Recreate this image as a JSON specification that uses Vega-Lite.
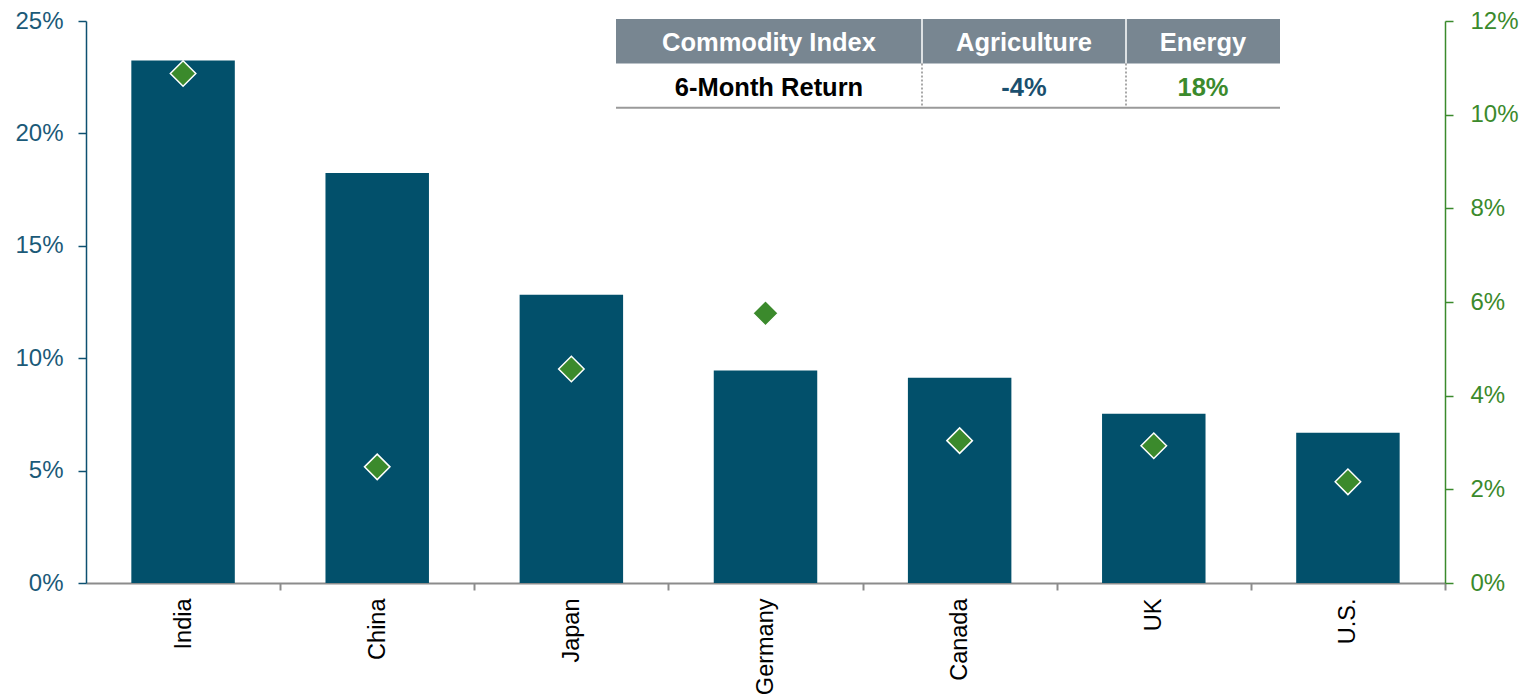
{
  "$schema": "https://vega.github.io/schema/vega-lite/v6.json",
  "width": 1359,
  "height": 562,
  "autosize": {"type": "none"},
  "padding": {"left": 86, "top": 21, "right": 87, "bottom": 116},
  "background": "white",
  "config": {
    "view": {"stroke": null},
    "font": "Liberation Sans",
    "axis": {"grid": false, "labelFont": "Liberation Sans", "titleFont": "Liberation Sans"}
  },
  "datasets": {
    "countries": [
      {"country": "India", "equity": 0.2324, "commodity": 0.1088},
      {"country": "China", "equity": 0.1824, "commodity": 0.0248},
      {"country": "Japan", "equity": 0.1282, "commodity": 0.0457},
      {"country": "Germany", "equity": 0.0945, "commodity": 0.0576},
      {"country": "Canada", "equity": 0.0913, "commodity": 0.0304},
      {"country": "UK", "equity": 0.0753, "commodity": 0.0293},
      {"country": "U.S.", "equity": 0.0668, "commodity": 0.0216}
    ],
    "cells": [
      {"label": "Commodity Index", "col": 1, "row": 1, "role": "head"},
      {"label": "Agriculture", "col": 3, "row": 1, "role": "head"},
      {"label": "Energy", "col": 5, "row": 1, "role": "head"},
      {"label": "6-Month Return", "col": 1, "row": 3, "role": "rowlabel"},
      {"label": "-4%", "col": 3, "row": 3, "role": "Agriculture"},
      {"label": "18%", "col": 5, "row": 3, "role": "Energy"}
    ]
  },
  "layer": [
    {
      "data": {"name": "countries"},
      "mark": {"type": "bar", "color": "#02506b"},
      "encoding": {
        "x": {
          "field": "country", "type": "nominal", "sort": null,
          "scale": {"paddingInner": 0.467, "paddingOuter": 0.2335},
          "axis": {
            "title": null, "labelAngle": -90, "labelFontSize": 23.5, "labelColor": "#000000",
            "tickOffset": 97, "labelOffset": -97, "domainColor": "#8c8c8c", "tickColor": "#8c8c8c",
            "domainWidth": 2, "tickWidth": 2, "tickSize": 7, "labelPadding": 8
          }
        },
        "y": {
          "field": "equity", "type": "quantitative",
          "scale": {"domain": [0, 0.25], "nice": false},
          "axis": {
            "title": null, "orient": "left", "values": [0, 0.05, 0.1, 0.15, 0.2, 0.25],
            "format": ".0%", "labelFontSize": 24, "labelColor": "#1b5a78",
            "domainColor": "#0d5070", "tickColor": "#0d5070", "domainWidth": 1.5, "tickWidth": 1.5,
            "tickSize": 8, "labelPadding": 15
          }
        }
      }
    },
    {
      "data": {"name": "countries"},
      "mark": {"type": "point", "shape": "diamond", "filled": true, "size": 650, "color": "#3b8a2c", "stroke": "#ffffff", "strokeWidth": 1.5, "opacity": 1},
      "encoding": {
        "x": {
          "field": "country", "type": "nominal", "sort": null,
          "scale": {"paddingInner": 0.467, "paddingOuter": 0.2335},
          "axis": null
        },
        "y": {
          "field": "commodity", "type": "quantitative",
          "scale": {"domain": [0, 0.12], "nice": false},
          "axis": {
            "title": null, "orient": "right", "values": [0, 0.02, 0.04, 0.06, 0.08, 0.1, 0.12],
            "format": ".0%", "labelFontSize": 24, "labelColor": "#3b8a2c",
            "domainColor": "#3b8a2c", "tickColor": "#3b8a2c", "domainWidth": 1.5, "tickWidth": 1.5,
            "tickSize": 8, "labelPadding": 17
          }
        }
      }
    },
    {
      "data": {"values": [{"x0": 0, "x1": 6, "y0": 0, "y1": 2}]},
      "mark": {"type": "rect", "color": "#788691"},
      "encoding": {
        "x": {"field": "x0", "type": "quantitative", "scale": {"type": "linear", "domain": [0, 1, 2, 3, 4, 5, 6], "range": [530, 683, 836, 938, 1040, 1117, 1194], "nice": false, "zero": false}, "axis": null},
        "x2": {"field": "x1"},
        "y": {"field": "y0", "type": "quantitative", "scale": {"type": "linear", "domain": [0, 1, 2, 3, 4], "range": [-2, 20.25, 42.5, 64.6, 86.7], "nice": false, "zero": false}, "axis": null},
        "y2": {"field": "y1"}
      }
    },
    {
      "data": {"values": [{"x": 2, "y0": 0, "y1": 2}, {"x": 4, "y0": 0, "y1": 2}]},
      "mark": {"type": "rule", "color": "#ffffff", "strokeWidth": 1.5},
      "encoding": {
        "x": {"field": "x", "type": "quantitative", "scale": {"type": "linear", "domain": [0, 1, 2, 3, 4, 5, 6], "range": [530, 683, 836, 938, 1040, 1117, 1194], "nice": false, "zero": false}, "axis": null},
        "y": {"field": "y0", "type": "quantitative", "scale": {"type": "linear", "domain": [0, 1, 2, 3, 4], "range": [-2, 20.25, 42.5, 64.6, 86.7], "nice": false, "zero": false}, "axis": null},
        "y2": {"field": "y1"}
      }
    },
    {
      "data": {"values": [{"x": 2, "y0": 2, "y1": 4}, {"x": 4, "y0": 2, "y1": 4}]},
      "mark": {"type": "rule", "color": "#8c8c8c", "strokeWidth": 1.5, "strokeDash": [2, 2]},
      "encoding": {
        "x": {"field": "x", "type": "quantitative", "scale": {"type": "linear", "domain": [0, 1, 2, 3, 4, 5, 6], "range": [530, 683, 836, 938, 1040, 1117, 1194], "nice": false, "zero": false}, "axis": null},
        "y": {"field": "y0", "type": "quantitative", "scale": {"type": "linear", "domain": [0, 1, 2, 3, 4], "range": [-2, 20.25, 42.5, 64.6, 86.7], "nice": false, "zero": false}, "axis": null},
        "y2": {"field": "y1"}
      }
    },
    {
      "data": {"values": [{"x0": 0, "x1": 6, "y": 4}]},
      "mark": {"type": "rule", "color": "#9a9a9a", "strokeWidth": 2},
      "encoding": {
        "x": {"field": "x0", "type": "quantitative", "scale": {"type": "linear", "domain": [0, 1, 2, 3, 4, 5, 6], "range": [530, 683, 836, 938, 1040, 1117, 1194], "nice": false, "zero": false}, "axis": null},
        "x2": {"field": "x1"},
        "y": {"field": "y", "type": "quantitative", "scale": {"type": "linear", "domain": [0, 1, 2, 3, 4], "range": [-2, 20.25, 42.5, 64.6, 86.7], "nice": false, "zero": false}, "axis": null}
      }
    },
    {
      "data": {"name": "cells"},
      "mark": {"type": "text", "font": "Liberation Sans", "fontSize": 25.5, "fontWeight": "bold", "align": "center", "baseline": "middle", "dy": 2},
      "encoding": {
        "x": {"field": "col", "type": "quantitative", "scale": {"type": "linear", "domain": [0, 1, 2, 3, 4, 5, 6], "range": [530, 683, 836, 938, 1040, 1117, 1194], "nice": false, "zero": false}, "axis": null},
        "y": {"field": "row", "type": "quantitative", "scale": {"type": "linear", "domain": [0, 1, 2, 3, 4], "range": [-2, 20.25, 42.5, 64.6, 86.7], "nice": false, "zero": false}, "axis": null},
        "text": {"field": "label"},
        "color": {
          "field": "role", "type": "nominal",
          "scale": {"domain": ["head", "rowlabel", "Agriculture", "Energy"], "range": ["#ffffff", "#000000", "#1b4f6e", "#3b8a2c"]},
          "legend": null
        }
      }
    }
  ],
  "resolve": {"scale": {"x": "independent", "y": "independent", "color": "independent"}}
}
